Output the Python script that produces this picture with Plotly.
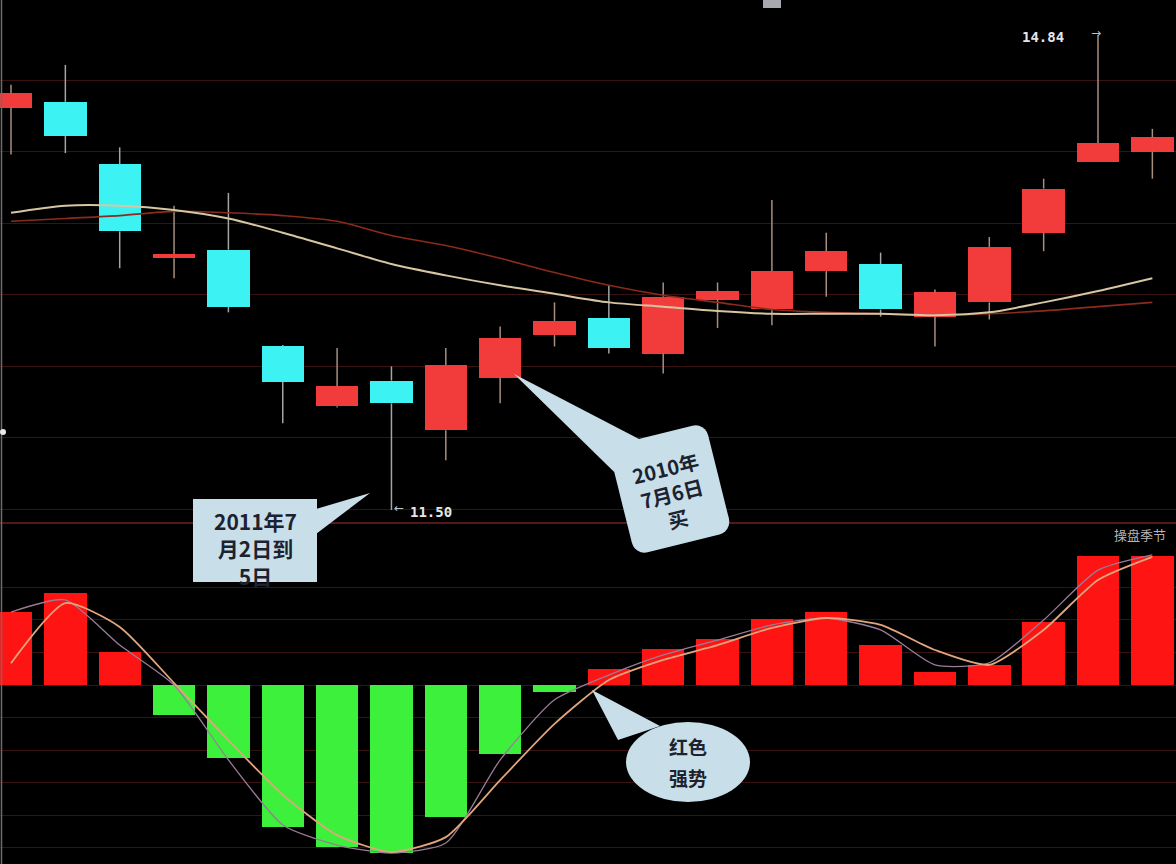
import math
import plotly.graph_objects as go
from plotly.subplots import make_subplots

W, H = 1176, 864

# ---------------- data ----------------
idx = list(range(22))
opens = [14.33, 14.37, 13.93, 13.27, 13.33, 12.65, 12.23, 12.41, 12.06, 12.43, 12.73,
         12.85, 12.60, 12.98, 12.91, 13.18, 13.23, 12.86, 12.96, 13.45, 13.95, 14.02]
closes = [14.43, 14.13, 13.46, 13.30, 12.93, 12.40, 12.37, 12.25, 12.52, 12.71, 12.83,
          12.64, 13.00, 13.04, 13.18, 13.32, 12.91, 13.03, 13.35, 13.76, 14.08, 14.12]
highs = [14.49, 14.63, 14.05, 13.64, 13.73, 12.66, 12.64, 12.51, 12.64, 12.79, 12.96,
         13.08, 13.10, 13.10, 13.68, 13.45, 13.31, 13.05, 13.42, 13.83, 14.84, 14.18]
lows = [14.00, 14.01, 13.20, 13.13, 12.89, 12.11, 12.22, 11.50, 11.85, 12.25, 12.65,
        12.60, 12.46, 12.78, 12.80, 13.00, 12.86, 12.65, 12.84, 13.32, 13.95, 13.83]

ma_fast = [13.59, 13.64, 13.64, 13.61, 13.55, 13.45, 13.34, 13.23, 13.15, 13.08, 13.02,
           12.96, 12.93, 12.90, 12.88, 12.88, 12.88, 12.87, 12.89, 12.96, 13.04, 13.13]
ma_slow = [13.53, 13.55, 13.57, 13.60, 13.59, 13.57, 13.53, 13.43, 13.36, 13.27, 13.17,
           13.08, 13.01, 12.96, 12.91, 12.89, 12.88, 12.87, 12.88, 12.90, 12.93, 12.96]

hist = [0.22, 0.28, 0.10, -0.09, -0.22, -0.43, -0.49, -0.51, -0.40, -0.21, -0.02,
        0.05, 0.11, 0.14, 0.20, 0.22, 0.12, 0.04, 0.06, 0.19, 0.39, 0.39]
dif = [0.221, 0.258, 0.121, 0.0, -0.227, -0.424, -0.485, -0.509, -0.479, -0.227, -0.045,
       0.030, 0.091, 0.136, 0.182, 0.203, 0.167, 0.061, 0.067, 0.197, 0.348, 0.394]
dea = [0.066, 0.248, 0.176, 0.006, -0.167, -0.333, -0.455, -0.506, -0.461, -0.288, -0.118,
       0.015, 0.076, 0.121, 0.173, 0.203, 0.182, 0.106, 0.061, 0.167, 0.318, 0.388]

price_grid = [11.507, 12.010, 12.512, 13.015, 13.517, 14.020, 14.522]
osc_grid = [-0.491, -0.394, -0.296, -0.197, -0.099, 0.0, 0.098, 0.197, 0.296]

low_label = "11.50"
high_label = "14.84"
note1 = "<b>2011年7<br>月2日到<br>5日</b>"
note2 = "<b>2010年<br>7月6日<br>买</b>"
note3_lines = ["<b>红色</b>", "<b>强势</b>"]
watermark = "操盘季节"

# ---------------- colours ----------------
UP = "#f23c3c"
DOWN = "#3cf2f2"
WICK_UP = "#a88e7e"
WICK_DOWN = "#a0a6a6"
GRID = "#3a1212"
BOX = "#c8dfe9"
TXT = "#1c2230"

SPLIT = 523  # pixel row of pane border

fig = make_subplots(rows=2, cols=1, shared_xaxes=True, vertical_spacing=0)

# ---- candle wicks (drawn as two segments so bodies stay clean) ----
for up_flag, col in ((True, WICK_UP), (False, WICK_DOWN)):
    xs, ys = [], []
    for i, o, c, h, l in zip(idx, opens, closes, highs, lows):
        if (c >= o) != up_flag:
            continue
        lo_b, hi_b = min(o, c), max(o, c)
        xs += [i, i, None, i, i, None]
        ys += [l, lo_b, None, hi_b, h, None]
    fig.add_trace(go.Scatter(x=xs, y=ys, mode="lines", line=dict(color=col, width=1.5),
                             hoverinfo="skip"), row=1, col=1)

# ---- candle bodies ----
fig.add_trace(go.Bar(
    x=idx,
    y=[abs(c - o) for o, c in zip(opens, closes)],
    base=[min(o, c) for o, c in zip(opens, closes)],
    marker=dict(color=[UP if c >= o else DOWN for o, c in zip(opens, closes)], line=dict(width=0)),
    width=0.78,
), row=1, col=1)

# ---- moving averages ----
fig.add_trace(go.Scatter(x=idx, y=ma_slow, mode="lines",
                         line=dict(color="#8c2a1c", width=1.6, shape="spline", smoothing=0.8)),
              row=1, col=1)
fig.add_trace(go.Scatter(x=idx, y=ma_fast, mode="lines",
                         line=dict(color="#d6c7a2", width=2, shape="spline", smoothing=0.8)),
              row=1, col=1)

# ---- lower pane histogram ----
fig.add_trace(go.Bar(
    x=idx, y=hist,
    marker=dict(color=["#ff1414" if v >= 0 else "#3cf03c" for v in hist], line=dict(width=0)),
    width=0.78,
), row=2, col=1)
fig.add_trace(go.Scatter(x=idx, y=dif, mode="lines",
                         line=dict(color="#9a7c98", width=1.3, shape="spline", smoothing=0.6)),
              row=2, col=1)
fig.add_trace(go.Scatter(x=idx, y=dea, mode="lines",
                         line=dict(color="#e2a57c", width=1.8, shape="spline", smoothing=0.6)),
              row=2, col=1)

# ---------------- axes ----------------
split_frac = 1 - SPLIT / H
fig.update_xaxes(range=[-0.2024, 21.435], showgrid=False, zeroline=False,
                 showticklabels=False, ticks="", showline=False)
fig.update_yaxes(range=[11.4086, 15.0863], domain=[split_frac, 1],
                 tickmode="array", tickvals=price_grid,
                 showgrid=True, gridcolor=GRID, gridwidth=1, zeroline=False,
                 showticklabels=False, ticks="", row=1, col=1)
fig.update_yaxes(range=[-0.5424, 0.4909], domain=[0, split_frac],
                 tickmode="array", tickvals=osc_grid,
                 showgrid=True, gridcolor=GRID, gridwidth=1, zeroline=False,
                 showticklabels=False, ticks="", row=2, col=1)


# ---------------- decorations (pixel -> paper helpers) ----------------
def fx(p):
    return p / W


def fy(p):
    return 1 - p / H


def poly_path(pts):
    s = "M " + " L ".join(f"{fx(x):.5f},{fy(y):.5f}" for x, y in pts)
    return s + " Z"


def rot(cx, cy, dx, dy, ang):
    t = math.radians(ang)
    return (cx + dx * math.cos(t) + dy * math.sin(t), cy - dx * math.sin(t) + dy * math.cos(t))


def rrect_pts(cx, cy, w, h, r, ang):
    pts = []
    centers = [((w / 2 - r), -(h / 2 - r), -90), ((w / 2 - r), (h / 2 - r), 0),
               (-(w / 2 - r), (h / 2 - r), 90), (-(w / 2 - r), -(h / 2 - r), 180)]
    for ccx, ccy, a0 in centers:
        for k in range(7):
            a = math.radians(a0 + k * 15)
            pts.append(rot(cx, cy, ccx + r * math.cos(a), ccy + r * math.sin(a), ang))
    return pts


shapes = []
# pane separator
shapes.append(dict(type="line", xref="paper", yref="paper", x0=0, x1=1,
                   y0=fy(SPLIT), y1=fy(SPLIT), line=dict(color="#6e2222", width=1.6)))
# left border line
shapes.append(dict(type="line", xref="paper", yref="paper", x0=fx(1.5), x1=fx(1.5),
                   y0=fy(0), y1=fy(864), line=dict(color="#6c6c6c", width=1.5)))
# small dot on left edge
shapes.append(dict(type="circle", xref="paper", yref="paper", x0=fx(0), x1=fx(6),
                   y0=fy(429), y1=fy(435), fillcolor="#e8e8e8", line=dict(width=0)))
# grey fragment at top
shapes.append(dict(type="rect", xref="paper", yref="paper", x0=fx(763), x1=fx(781),
                   y0=fy(0), y1=fy(8), fillcolor="#a8a8b0", line=dict(width=0)))

# callout 1 (rectangle)
shapes.append(dict(type="path", xref="paper", yref="paper",
                   path=poly_path([(316, 509), (370, 493), (316, 534)]),
                   fillcolor=BOX, line=dict(width=0)))
shapes.append(dict(type="rect", xref="paper", yref="paper", x0=fx(193), x1=fx(317),
                   y0=fy(499), y1=fy(582), fillcolor=BOX, line=dict(width=0)))

# callout 2 (rotated rounded box)
C2 = (670, 489)
ANG2 = 14
b1 = rot(C2[0], C2[1], -50, -30, ANG2)
b2 = rot(C2[0], C2[1], -18, -56, ANG2)
shapes.append(dict(type="path", xref="paper", yref="paper",
                   path=poly_path([b1, (514, 374), b2]),
                   fillcolor=BOX, line=dict(width=0)))
shapes.append(dict(type="path", xref="paper", yref="paper",
                   path=poly_path(rrect_pts(C2[0], C2[1], 100, 112, 13, ANG2)),
                   fillcolor=BOX, line=dict(width=0)))

# callout 3 (ellipse)
shapes.append(dict(type="path", xref="paper", yref="paper",
                   path=poly_path([(618, 740), (592, 690), (660, 726)]),
                   fillcolor=BOX, line=dict(width=0)))
shapes.append(dict(type="circle", xref="paper", yref="paper", x0=fx(626), x1=fx(750),
                   y0=fy(802), y1=fy(722), fillcolor=BOX, line=dict(width=0)))

annotations = [
    dict(xref="paper", yref="paper", x=fx(255), y=fy(548), text=note1, showarrow=False,
         xanchor="center", yanchor="middle",
         font=dict(family="Noto Sans CJK SC, Arial", size=21, color=TXT)),
    dict(xref="paper", yref="paper", x=fx(671), y=fy(493), text=note2, showarrow=False,
         xanchor="center", yanchor="middle", textangle=-ANG2,
         font=dict(family="Noto Sans CJK SC, Arial", size=20, color=TXT)),
    dict(xref="paper", yref="paper", x=fx(688), y=fy(746), text=note3_lines[0], showarrow=False,
         xanchor="center", yanchor="middle",
         font=dict(family="Noto Sans CJK SC, Arial", size=19, color=TXT)),
    dict(xref="paper", yref="paper", x=fx(688), y=fy(777), text=note3_lines[1], showarrow=False,
         xanchor="center", yanchor="middle",
         font=dict(family="Noto Sans CJK SC, Arial", size=19, color=TXT)),
    dict(xref="paper", yref="paper", x=fx(408), y=fy(512), text="<b>" + low_label + "</b>",
         showarrow=False, xanchor="left", yanchor="middle",
         font=dict(family="DejaVu Sans Mono", size=14, color="#e6e6e6")),
    dict(xref="paper", yref="paper", x=fx(399), y=fy(508), text="←", showarrow=False,
         xanchor="center", yanchor="middle",
         font=dict(family="DejaVu Sans", size=12, color="#c4c4c4")),
    dict(xref="paper", yref="paper", x=fx(1066), y=fy(37), text="<b>" + high_label + "</b>",
         showarrow=False, xanchor="right", yanchor="middle",
         font=dict(family="DejaVu Sans Mono", size=14, color="#e6e6e6")),
    dict(xref="paper", yref="paper", x=fx(1096), y=fy(33), text="→", showarrow=False,
         xanchor="center", yanchor="middle",
         font=dict(family="DejaVu Sans", size=12, color="#c8c0b0")),
    dict(xref="paper", yref="paper", x=fx(1112), y=fy(534), text=watermark, showarrow=False,
         xanchor="left", yanchor="middle",
         font=dict(family="Noto Sans CJK SC", size=13, color="#b4b4b4")),
]

fig.update_layout(
    width=W, height=H,
    margin=dict(l=0, r=0, t=0, b=0),
    paper_bgcolor="black", plot_bgcolor="black",
    showlegend=False, barmode="overlay", bargap=0,
    shapes=shapes, annotations=annotations,
    hovermode=False,
)

fig.write_html(
    "out.html",
    config={"displayModeBar": False, "responsive": False},
    post_script="document.body.style.margin='0';document.body.style.overflow='hidden';"
                "document.body.style.background='black';",
)
